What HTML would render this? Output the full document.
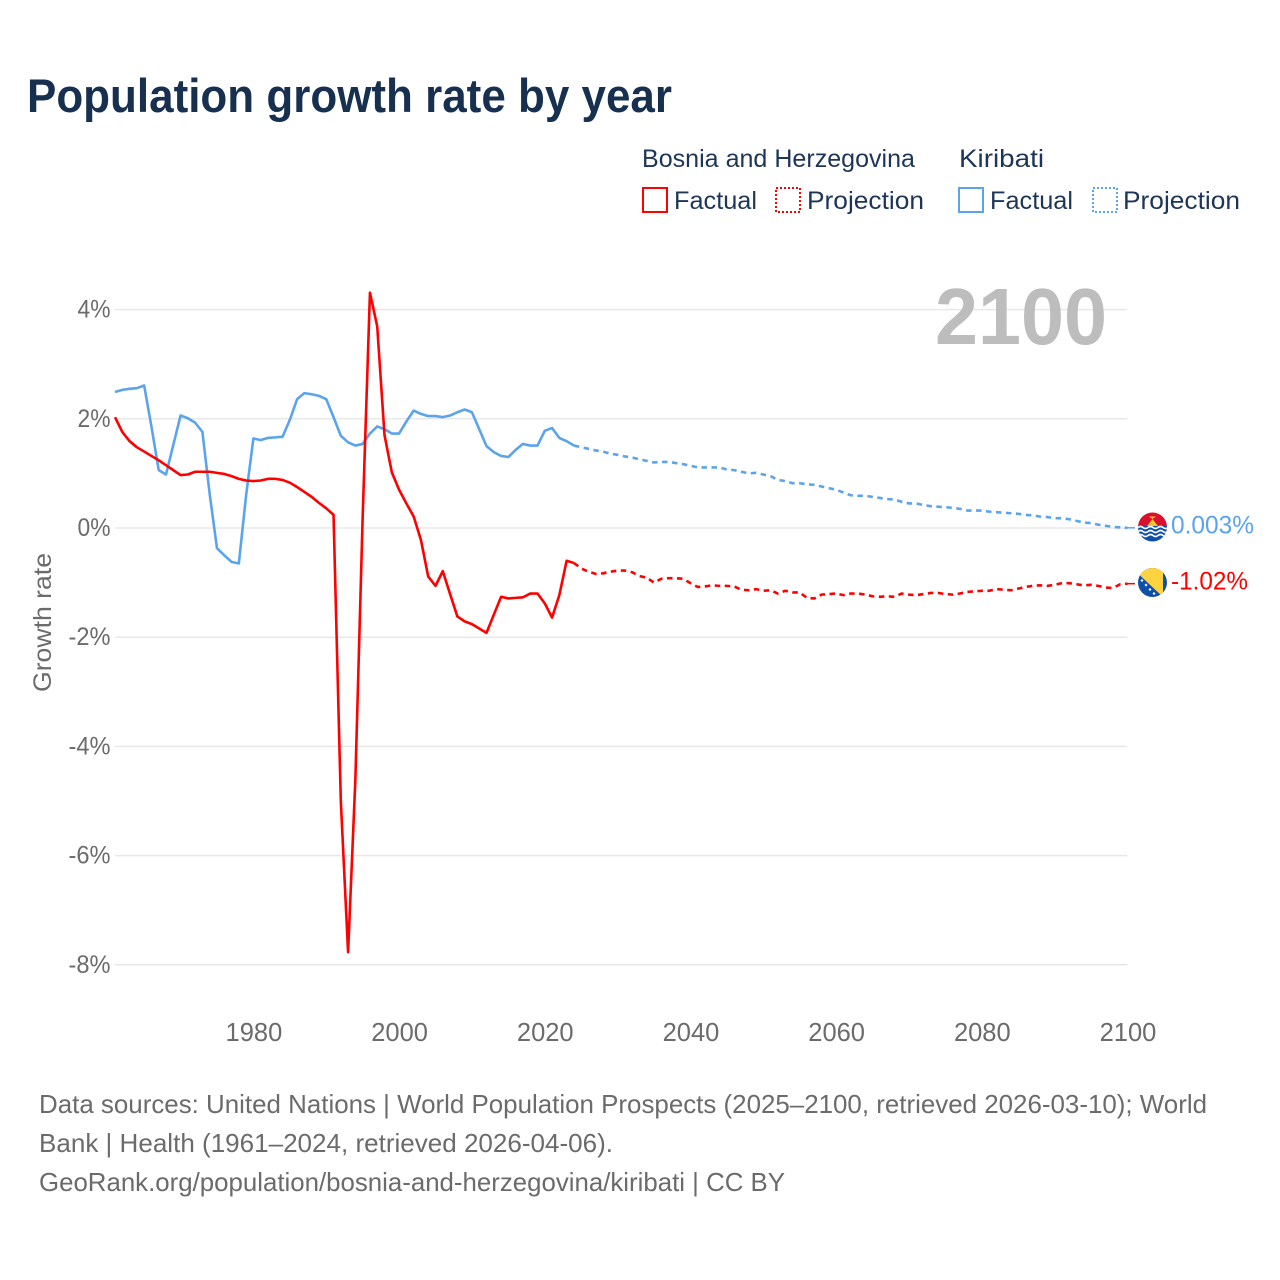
<!DOCTYPE html>
<html lang="en">
<head>
<meta charset="utf-8">
<title>Population growth rate by year</title>
<style>
html,body{margin:0;padding:0;background:#fff;}
svg{display:block;font-family:"Liberation Sans",sans-serif;}
</style>
</head>
<body>
<svg id="chart" xmlns="http://www.w3.org/2000/svg" width="1280" height="1280" viewBox="0 0 1280 1280">
  <defs>
    <clipPath id="flag-clip-ki"><circle cx="1152.5" cy="527" r="14.5"/></clipPath>
    <clipPath id="flag-clip-ba"><circle cx="1152.5" cy="582.5" r="14.5"/></clipPath>
  </defs>
  <rect x="0" y="0" width="1280" height="1280" fill="#ffffff"/>

  <text x="27" y="112" font-size="47" font-weight="700" fill="#18304f" textLength="645" lengthAdjust="spacingAndGlyphs">Population growth rate by year</text>

  <g font-size="25" fill="#1d3557">
    <text x="642" y="167" textLength="273" lengthAdjust="spacingAndGlyphs">Bosnia and Herzegovina</text>
    <text x="959" y="167" textLength="85" lengthAdjust="spacingAndGlyphs">Kiribati</text>
    <rect x="643" y="188" width="24" height="24" fill="none" stroke="#ff0000" stroke-width="2"/>
    <text x="674" y="209" textLength="83" lengthAdjust="spacingAndGlyphs">Factual</text>
    <rect x="776" y="188" width="24" height="24" fill="none" stroke="#ff0000" stroke-width="2" stroke-dasharray="2,2"/>
    <text x="807" y="209" textLength="117" lengthAdjust="spacingAndGlyphs">Projection</text>
    <rect x="959" y="188" width="24" height="24" fill="none" stroke="#5ba4ec" stroke-width="2"/>
    <text x="990" y="209" textLength="83" lengthAdjust="spacingAndGlyphs">Factual</text>
    <rect x="1093" y="188" width="24" height="24" fill="none" stroke="#5ba4ec" stroke-width="2" stroke-dasharray="2,2"/>
    <text x="1123" y="209" textLength="117" lengthAdjust="spacingAndGlyphs">Projection</text>
  </g>

  <g id="grid"></g>
  <text x="935" y="344" font-size="80" font-weight="700" fill="#bdbdbd" textLength="172" lengthAdjust="spacingAndGlyphs">2100</text>
  <g id="y-ticks"></g>
  <g id="x-ticks"></g>
  <text transform="translate(51,692) rotate(-90)" font-size="25" fill="#6b6b6b" textLength="139" lengthAdjust="spacingAndGlyphs">Growth rate</text>
  <g id="series"></g>

  <g clip-path="url(#flag-clip-ki)">
    <rect x="1138" y="512" width="30" height="15" fill="#d9112e"/>
    <rect x="1138" y="526" width="30" height="16" fill="#0f4fa8"/>
    <path d="M1138 527.500q2.500-2 5 0t5 0 5 0 5 0 5 0 5 0M1138 531.500q2.500-2 5 0t5 0 5 0 5 0 5 0 5 0M1138 535.500q2.500-2 5 0t5 0 5 0 5 0 5 0 5 0" fill="none" stroke="#ffffff" stroke-width="1.6"/>
    <path d="M1147 526l5.500-7 5.500 7z" fill="#f6c332"/>
    <path d="M1149 516.500h7l-3.500 2.500z" fill="#f6c332"/>
  </g>
  <g clip-path="url(#flag-clip-ba)">
    <rect x="1138" y="568" width="30" height="30" fill="#0f4fa8"/>
    <path d="M1139 574.500L1139 560L1163 560L1163 597Z" fill="#ffd240"/>
    <path d="M1142 579l1.500 1.500-1.500 1.500-1.500-1.500zM1146 583.500l1.500 1.500-1.500 1.500-1.500-1.500zM1150 588l1.500 1.500-1.500 1.500-1.500-1.500zM1154 592l1.500 1.500-1.500 1.500-1.500-1.500z" fill="#ffffff"/>
  </g>

  <g id="end-labels"></g>

  <g font-size="26" fill="#6b6b6b">
    <text x="39" y="1113" textLength="1168" lengthAdjust="spacingAndGlyphs">Data sources: United Nations | World Population Prospects (2025–2100, retrieved 2026-03-10); World</text>
    <text x="39" y="1152" textLength="574" lengthAdjust="spacingAndGlyphs">Bank | Health (1961–2024, retrieved 2026-04-06).</text>
    <text x="39" y="1191" textLength="746" lengthAdjust="spacingAndGlyphs">GeoRank.org/population/bosnia-and-herzegovina/kiribati | CC BY</text>
  </g>
</svg>

<script>
const yTicks = [4, 2, 0, -2, -4, -6, -8];
const xTicks = [1980, 2000, 2020, 2040, 2060, 2080, 2100];
const factualStartYear = 1961;
const projectionStartYear = 2024;

const bosniaFactual = [
  2.03, 1.76, 1.59, 1.48, 1.40, 1.32, 1.24, 1.15, 1.06,
  0.97, 0.98, 1.03, 1.03, 1.03, 1.01, 0.99, 0.95, 0.90, 0.87,
  0.86, 0.87, 0.90, 0.90, 0.88, 0.83, 0.75, 0.66, 0.57, 0.46,
  0.36, 0.24, -5.00, -7.77, -4.60, 0.20, 4.31, 3.69, 1.70, 1.02,
  0.70, 0.45, 0.21, -0.22, -0.89, -1.06, -0.79, -1.21, -1.62, -1.71,
  -1.76, -1.84, -1.92, -1.59, -1.26, -1.29, -1.28, -1.27, -1.20, -1.20,
  -1.38, -1.64, -1.23, -0.60, -0.64
];
const bosniaProjection = [
  -0.64, -0.74, -0.80, -0.84, -0.83, -0.80, -0.78, -0.78, -0.81, -0.88, -0.91,
  -1.00, -0.93, -0.92, -0.92, -0.93, -1.01, -1.08, -1.07, -1.05, -1.06,
  -1.06, -1.07, -1.13, -1.14, -1.12, -1.15, -1.14, -1.20, -1.15, -1.18,
  -1.18, -1.28, -1.29, -1.22, -1.21, -1.20, -1.23, -1.20, -1.20, -1.22,
  -1.25, -1.26, -1.25, -1.26, -1.20, -1.22, -1.23, -1.21, -1.19, -1.19,
  -1.21, -1.22, -1.20, -1.17, -1.16, -1.15, -1.15, -1.12, -1.13, -1.14,
  -1.11, -1.08, -1.06, -1.05, -1.06, -1.04, -1.01, -1.01, -1.03, -1.05,
  -1.04, -1.06, -1.09, -1.10, -1.03, -1.02
];
const kiribatiFactual = [
  2.49, 2.53, 2.55, 2.56, 2.61, 1.86, 1.06, 0.98, 1.52,
  2.06, 2.01, 1.93, 1.76, 0.62, -0.37, -0.50, -0.62, -0.65, 0.60,
  1.64, 1.61, 1.65, 1.66, 1.67, 1.98, 2.36, 2.47, 2.45, 2.42,
  2.36, 2.03, 1.69, 1.57, 1.51, 1.54, 1.73, 1.86, 1.81, 1.73,
  1.73, 1.95, 2.15, 2.09, 2.05, 2.05, 2.03, 2.06, 2.12, 2.17,
  2.12, 1.81, 1.50, 1.39, 1.32, 1.30, 1.43, 1.54, 1.51, 1.51,
  1.78, 1.83, 1.65, 1.59, 1.51
];
const kiribatiProjection = [
  1.51, 1.48, 1.45, 1.42, 1.40, 1.36, 1.34, 1.31, 1.29, 1.26, 1.23,
  1.20, 1.21, 1.21, 1.19, 1.17, 1.14, 1.11, 1.11, 1.11, 1.11,
  1.07, 1.06, 1.03, 1.00, 1.01, 0.98, 0.95, 0.88, 0.86, 0.82,
  0.82, 0.80, 0.79, 0.76, 0.73, 0.70, 0.65, 0.60, 0.59, 0.59,
  0.57, 0.55, 0.53, 0.52, 0.48, 0.45, 0.45, 0.42, 0.40, 0.39,
  0.38, 0.37, 0.35, 0.32, 0.32, 0.32, 0.30, 0.29, 0.28, 0.27,
  0.26, 0.24, 0.23, 0.21, 0.20, 0.18, 0.18, 0.16, 0.13, 0.10,
  0.09, 0.06, 0.04, 0.02, 0.01, 0.003
];
const bosniaEndLabel = "-1.02%";
const kiribatiEndLabel = "0.003%";

const SVG_NS = "http://www.w3.org/2000/svg";
const RED = "#ff0000";
const BLUE = "#5ba4ec";
const GREY_TEXT = "#6b6b6b";
const plotLeft = 115;
const plotRight = 1127.5;
const domainYearMin = 1961;
const domainYearMax = 2100;

function xScale(year) {
  return plotLeft + (year - domainYearMin) * (plotRight - plotLeft) / (domainYearMax - domainYearMin);
}
function yScale(value) {
  return 528 - value * 54.6;
}
function make(tag, attrs, parent) {
  const node = document.createElementNS(SVG_NS, tag);
  Object.keys(attrs).forEach(function (key) { node.setAttribute(key, attrs[key]); });
  parent.appendChild(node);
  return node;
}
function seriesPath(startYear, values) {
  return values.map(function (v, i) {
    return (i === 0 ? "M" : "L") + xScale(startYear + i).toFixed(2) + " " + yScale(v).toFixed(2);
  }).join(" ");
}

const gridGroup = document.getElementById("grid");
const yTickGroup = document.getElementById("y-ticks");
const xTickGroup = document.getElementById("x-ticks");
const seriesGroup = document.getElementById("series");
const endLabelGroup = document.getElementById("end-labels");

yTicks.forEach(function (tick) {
  const line = make("line", { x1: plotLeft, x2: plotRight, y1: yScale(tick), y2: yScale(tick), stroke: "#e8e8e8", "stroke-width": 1.5 }, gridGroup);
  
  
  const label = make("text", { x: 110.5, y: yScale(tick) + 8, "text-anchor": "end", "font-size": 25, fill: GREY_TEXT, textLength: tick < 0 ? 42 : 33, lengthAdjust: "spacingAndGlyphs" }, yTickGroup);
  label.textContent = tick + "%";
  
  
});

xTicks.forEach(function (tick) {
  const label = make("text", { x: xScale(tick) + 0.5, y: 1041, "text-anchor": "middle", "font-size": 25.5, fill: GREY_TEXT }, xTickGroup);
  label.textContent = String(tick);
  
  
});

function drawSeries(startYear, values, color, dashed) {
  const attrs = { d: seriesPath(startYear, values), fill: "none", stroke: color, "stroke-width": 2.6, "stroke-linejoin": "round" };
  if (dashed) { attrs["stroke-dasharray"] = "5.5,4.5"; }
  return make("path", attrs, seriesGroup);
}

const kiribatiFactualLine = drawSeries(factualStartYear, kiribatiFactual, BLUE, false);


const kiribatiProjectionLine = drawSeries(projectionStartYear, kiribatiProjection, BLUE, true);


const bosniaFactualLine = drawSeries(factualStartYear, bosniaFactual, RED, false);


const bosniaProjectionLine = drawSeries(projectionStartYear, bosniaProjection, RED, true);



const kiribatiLast = kiribatiProjection[kiribatiProjection.length - 1];
const bosniaLast = bosniaProjection[bosniaProjection.length - 1];

const kiribatiConnector = make("line", { x1: plotRight, x2: 1135, y1: yScale(kiribatiLast), y2: yScale(kiribatiLast), stroke: BLUE, "stroke-width": 1.5 }, endLabelGroup);


const bosniaConnector = make("line", { x1: plotRight, x2: 1135, y1: yScale(bosniaLast), y2: yScale(bosniaLast), stroke: RED, "stroke-width": 1.5 }, endLabelGroup);



const kiribatiLabel = make("text", { x: 1171, y: 533.5, "font-size": 25, fill: BLUE, textLength: 83, lengthAdjust: "spacingAndGlyphs" }, endLabelGroup);
kiribatiLabel.textContent = kiribatiEndLabel;


const bosniaLabel = make("text", { x: 1171, y: 589.5, "font-size": 25, fill: RED, textLength: 77, lengthAdjust: "spacingAndGlyphs" }, endLabelGroup);
bosniaLabel.textContent = bosniaEndLabel;


</script>
</body>
</html>
